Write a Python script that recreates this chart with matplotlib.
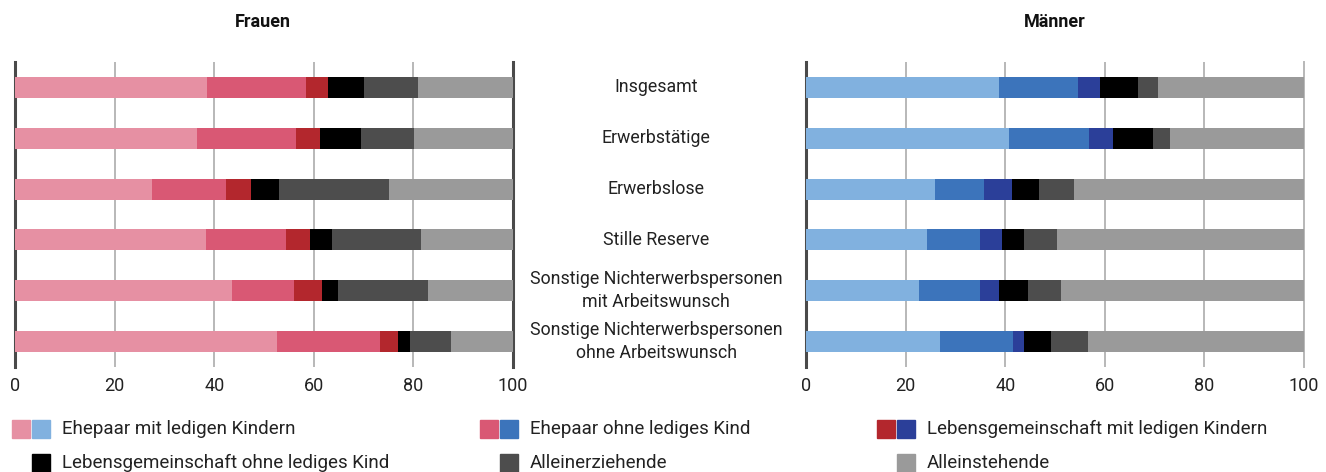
import matplotlib
matplotlib.use('Agg')
import matplotlib.pyplot as plt
from matplotlib.patches import Rectangle
from matplotlib.transforms import blended_transform_factory

plt.rcParams['font.family'] = ['Roboto', 'DejaVu Sans']

# categories, top to bottom
categories = ["Insgesamt", "Erwerbstätige", "Erwerbslose", "Stille Reserve",
              "Sonstige Nichterwerbspersonen\nmit Arbeitswunsch",
              "Sonstige Nichterwerbspersonen\nohne Arbeitswunsch"]

series = ["Ehepaar mit ledigen Kindern", "Ehepaar ohne lediges Kind",
          "Lebensgemeinschaft mit ledigen Kindern",
          "Lebensgemeinschaft ohne lediges Kind", "Alleinerziehende",
          "Alleinstehende"]

# shares in percent, one list per series (same order as categories)
frauen_ehe_kind = [38.5, 36.5, 27.5, 38.3, 43.5, 52.6]
frauen_ehe_ohne = [19.9, 20.0, 14.9, 16.1, 12.5, 20.7]
frauen_lg_kind = [4.4, 4.8, 5.0, 4.8, 5.7, 3.6]
frauen_lg_ohne = [7.3, 8.2, 5.6, 4.5, 3.2, 2.4]
frauen_allerz = [10.9, 10.7, 22.1, 17.9, 18.0, 8.3]
frauen_allst = [19.0, 19.8, 24.9, 18.4, 17.1, 12.4]

maenner_ehe_kind = [38.8, 40.8, 25.9, 24.3, 22.6, 27.0]
maenner_ehe_ohne = [15.8, 16.0, 9.9, 10.7, 12.4, 14.6]
maenner_lg_kind = [4.4, 4.9, 5.6, 4.4, 3.8, 2.2]
maenner_lg_ohne = [7.7, 7.9, 5.4, 4.4, 5.8, 5.4]
maenner_allerz = [4.0, 3.4, 7.0, 6.6, 6.6, 7.4]
maenner_allst = [29.3, 27.0, 46.2, 49.6, 48.8, 43.4]

xticks = [0, 20, 40, 60, 80, 100]

frauen_colors = ['#E690A3', '#D95874', '#B3272D', '#000000', '#4D4D4D', '#9A9A9A']
maenner_colors = ['#81B1DF', '#3C74BB', '#2B3F99', '#000000', '#4D4D4D', '#9A9A9A']

W, H = 1326, 472
fig = plt.figure(figsize=(W / 100, H / 100), dpi=100)

ax_f = fig.add_axes([15 / W, 1 - 367 / H, 498 / W, 305 / H])
ax_m = fig.add_axes([806 / W, 1 - 367 / H, 498 / W, 305 / H])


def draw_panel(ax, data, colors, right_dark):
    y = list(range(len(categories)))
    left = [0] * len(categories)
    for vals, c in zip(data, colors):
        ax.barh(y, vals, left=left, height=0.41, color=c, zorder=3)
        left = [a + b for a, b in zip(left, vals)]
    ax.set_xlim(0, 100)
    ax.set_ylim(len(categories) - 0.5, -0.5)
    ax.set_xticks(xticks)
    ax.set_xticklabels([str(t) for t in xticks], fontsize=13, color='#222222')
    ax.tick_params(axis='x', length=0, pad=7)
    ax.set_yticks([])
    for t in xticks[1:-1]:
        ax.axvline(t, color='#B8B8B8', lw=1.4, zorder=1)
    for s in ['top', 'bottom']:
        ax.spines[s].set_visible(False)
    ax.spines['left'].set_color('#4A4A4A')
    ax.spines['left'].set_linewidth(2.2)
    if right_dark:
        ax.spines['right'].set_color('#4A4A4A')
        ax.spines['right'].set_linewidth(2.2)
    else:
        ax.spines['right'].set_color('#B8B8B8')
        ax.spines['right'].set_linewidth(1.4)


draw_panel(ax_f, [frauen_ehe_kind, frauen_ehe_ohne, frauen_lg_kind,
                  frauen_lg_ohne, frauen_allerz, frauen_allst],
           frauen_colors, True)
draw_panel(ax_m, [maenner_ehe_kind, maenner_ehe_ohne, maenner_lg_kind,
                  maenner_lg_ohne, maenner_allerz, maenner_allst],
           maenner_colors, False)

# panel titles
fig.text(263 / W, 1 - 22 / H, "Frauen", ha='center', va='center',
         fontsize=13, fontweight='bold', color='#111111')
fig.text(1055 / W, 1 - 22 / H, "Männer", ha='center', va='center',
         fontsize=13, fontweight='bold', color='#111111')

# category labels between the panels
trans = blended_transform_factory(fig.transFigure, ax_f.transData)
for i, cat in enumerate(categories):
    ax_f.text(656 / W, i, cat, transform=trans, ha='center', va='center',
              fontsize=12.8, color='#222222', linespacing=1.35, clip_on=False)

# legend
legend_items = [
    (12, 429, [frauen_colors[0], maenner_colors[0]], series[0]),
    (480, 429, [frauen_colors[1], maenner_colors[1]], series[1]),
    (877, 429, [frauen_colors[2], maenner_colors[2]], series[2]),
    (12, 463, [None, frauen_colors[3]], series[3]),
    (480, 463, [None, frauen_colors[4]], series[4]),
    (877, 463, [None, frauen_colors[5]], series[5]),
]
for x0, yc, cols, label in legend_items:
    for k, c in enumerate(cols):
        if c is None:
            continue
        fig.patches.append(Rectangle(((x0 + k * 20) / W, 1 - (yc + 9) / H),
                                     18 / W, 18 / H, color=c,
                                     transform=fig.transFigure, figure=fig))
    fig.text((x0 + 50) / W, 1 - yc / H, label, ha='left', va='center',
             fontsize=13.5, color='#222222')

fig.savefig('out.png', dpi=100)
